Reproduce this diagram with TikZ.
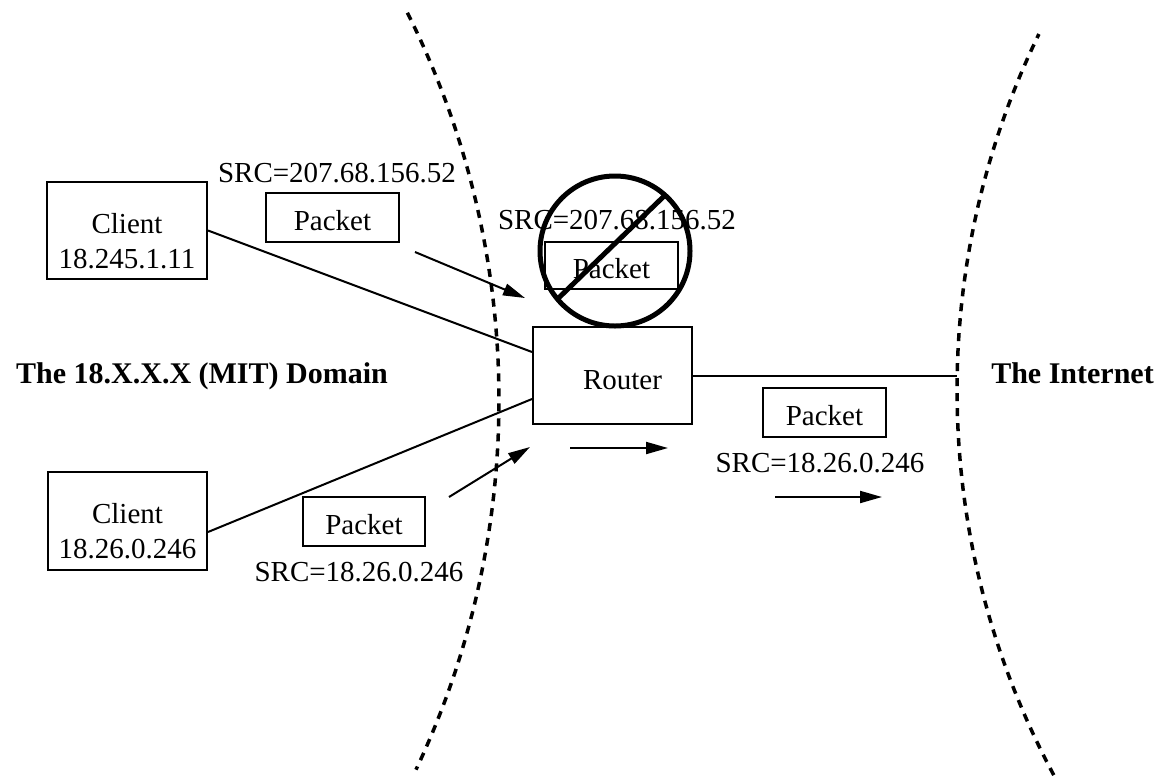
\documentclass[tikz,border=0pt]{standalone}
\usepackage{fontspec}
\setmainfont{Liberation Serif}
\usetikzlibrary{arrows.meta}
\begin{document}
\begin{tikzpicture}[x=1pt, y=-1pt,
  every node/.style={font=\fontsize{29}{35}\selectfont},
  box/.style={draw, line width=2pt, inner sep=0pt},
  hostbox/.style={box, minimum width=160pt, minimum height=97pt, align=center,
                  text height=75pt, text depth=0pt},
  pkt/.style={box, minimum width=#1, minimum height=49pt, text height=26pt, text depth=0pt},
  wire/.style={line width=2pt},
  flow/.style={line width=2pt, -{Triangle[length=22pt, width=12pt]}},
  boundary/.style={line width=3.5pt, dash pattern=on 8pt off 7pt},
  domain label/.style={font=\bfseries\fontsize{30}{36}\selectfont}
]
\useasboundingbox (0,0) rectangle (1156,777);
\fill[white] (0,0) rectangle (1156,777);

% network boundaries
\draw[boundary] plot[domain=-26.6:25.3, samples=90] ({-366+865*cos(\x)}, {400+865*sin(\x)});
\draw[boundary] plot[domain=151.8:205.9, samples=90] ({1772+815*cos(\x)}, {390+815*sin(\x)});
\coordinate (edge) at (957,375.5);

% hosts and router
\node[hostbox] (client1) at (127,230.5) {Client\\18.245.1.11};
\node[hostbox, minimum width=159pt, minimum height=98pt] (client2) at (127.5,521) {Client\\18.26.0.246};
\node[box, minimum width=159pt, minimum height=97pt, text height=28pt, text depth=0pt] (router) at (612.5,375.5) {\hspace*{20pt}Router};

% links
\draw[wire] (client1.east) -- ([yshift=23.5pt]router.west);
\draw[wire] ([yshift=-11pt]client2.east) -- ([yshift=-23.5pt]router.west);
\draw[wire] (router.east) -- (edge);

% packets
\node[pkt=133pt] (pkt1) at (332.5,217.5) {Packet};
\node (src1) at (337,173) {SRC=207.68.156.52};
\node[pkt=122pt] (pkt2) at (364,521.5) {Packet};
\node (src2) at (359,572.5) {SRC=18.26.0.246};
\node[pkt=123pt] (pkt3) at (824.5,412.5) {Packet};
\node (src3) at (820,463) {SRC=18.26.0.246};

% dropped packet
\node[pkt=133pt, minimum height=47pt] (pktX) at (611.5,265.5) {Packet};
\node (srcX) at (617,220) {SRC=207.68.156.52};
\node[draw, circle, line width=5pt, minimum size=150pt, inner sep=0pt] (ban) at (615,251) {};
\draw[line width=5pt, shorten <=3pt, shorten >=3pt] (ban.220) -- (ban.48);

% direction of travel
\coordinate (a1s) at (415,252);
\coordinate (a1e) at (525,298);
\coordinate (a2s) at (449,497);
\coordinate (a2e) at (530,447);
\coordinate (a3s) at (570,448);
\coordinate (a3e) at (668,448);
\coordinate (a4s) at (775,497);
\coordinate (a4e) at (882,497);
\draw[flow] (a1s) -- (a1e);
\draw[flow] (a2s) -- (a2e);
\draw[flow] (a3s) -- (a3e);
\draw[flow] (a4s) -- (a4e);

% domain names
\node[domain label] (mit) at (202,376) {The 18.X.X.X (MIT) Domain};
\node[domain label] (inet) at (1072.5,373) {The Internet};
\end{tikzpicture}
\end{document}
